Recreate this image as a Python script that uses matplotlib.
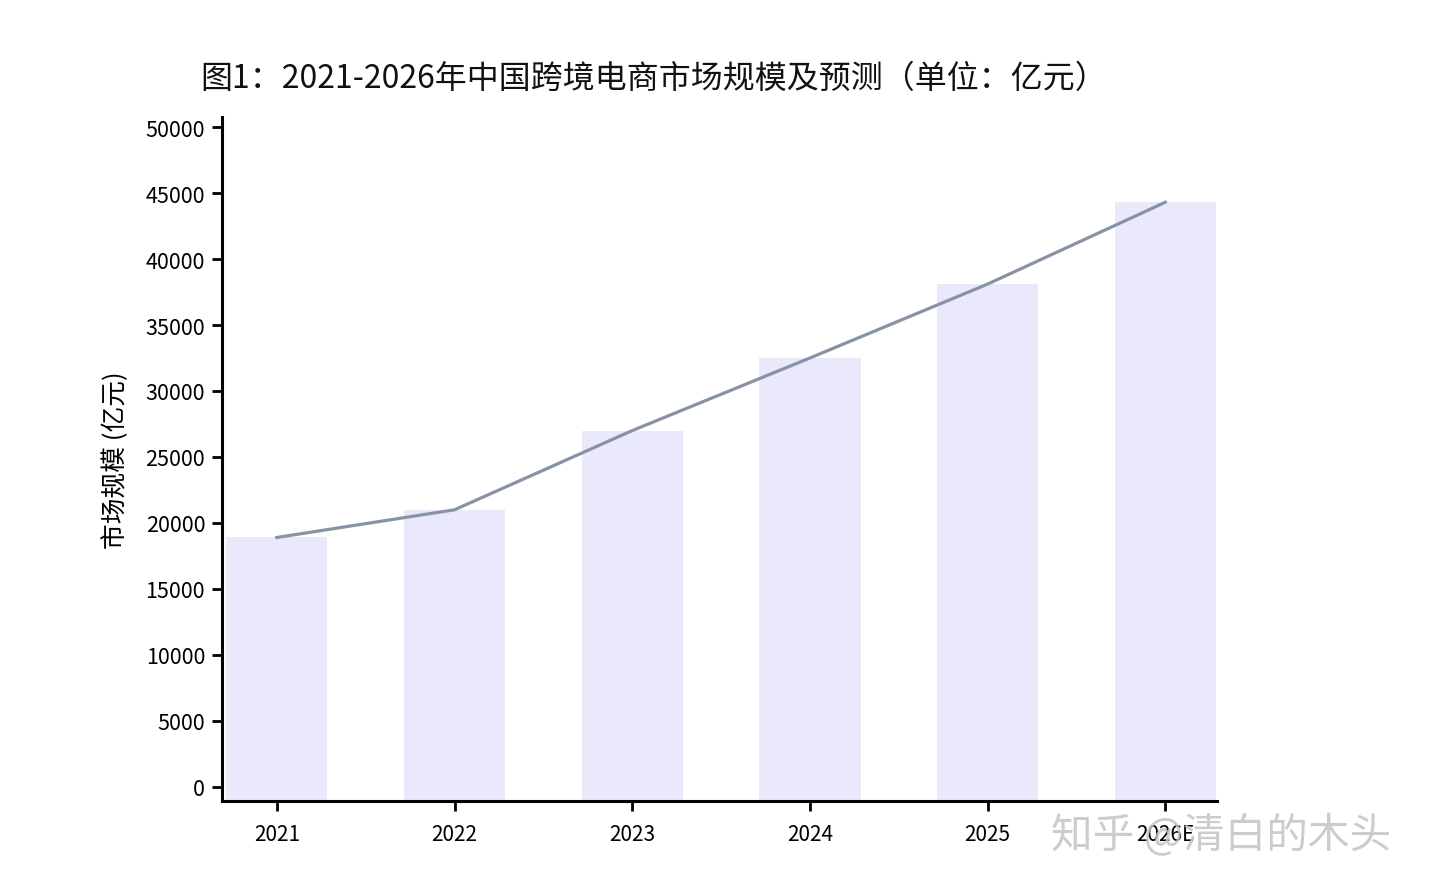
import matplotlib
matplotlib.use("Agg")
import matplotlib.pyplot as plt
import numpy as np

plt.rcParams['font.family'] = ['Noto Sans CJK SC', 'DejaVu Sans']

years = ["2021", "2022", "2023", "2024", "2025", "2026E"]
market_size = [18900, 21000, 27000, 32500, 38100, 44300]
y_ticks = [0, 5000, 10000, 15000, 20000, 25000, 30000, 35000, 40000, 45000, 50000]

title = "图1：2021-2026年中国跨境电商市场规模及预测（单位：亿元）"
ylabel = "市场规模 (亿元)"
watermark = "知乎 @清白的木头"

fig = plt.figure(figsize=(14.4, 8.95), dpi=100)
ax = fig.add_axes([0.154, 0.104, 0.691, 0.764])

ymin, ymax = -1060, 50750
x = np.arange(len(years))
ax.bar(x, np.array(market_size) - ymin, bottom=ymin, width=0.57, color="#e9e9fb", zorder=1)
ax.plot(x, market_size, color="#8793a5", linewidth=2.3, zorder=2)

ax.set_ylim(ymin, ymax)
ax.set_xlim(-0.31, 5.29)
ax.set_xticks(x)
ax.set_xticklabels(years, fontsize=15)
ax.set_yticks(y_ticks)
ax.set_yticklabels([str(v) for v in y_ticks], fontsize=15.5)
ax.tick_params(axis='both', direction='out', length=7, width=2, color='black')
ax.tick_params(axis='x', pad=9)
ax.tick_params(axis='y', pad=5)

for s in ['top', 'right']:
    ax.spines[s].set_visible(False)
for s in ['left', 'bottom']:
    ax.spines[s].set_linewidth(2.2)
    ax.spines[s].set_color('black')

ax.set_ylabel(ylabel, fontsize=18.5, labelpad=12)

fig.text(0.139, 0.912, title, fontsize=23, ha='left', va='center', color='#111111', fontweight='medium')

fig.text(0.73, 0.066, watermark, fontsize=30, ha='left', va='center', color='#c4c4c4', alpha=0.85)

fig.savefig("out.png", dpi=100)
